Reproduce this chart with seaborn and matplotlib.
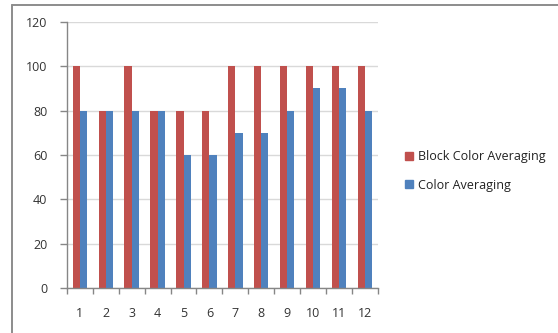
import matplotlib
matplotlib.use("Agg")
import matplotlib.pyplot as plt
from matplotlib.lines import Line2D
import seaborn as sns
import pandas as pd

# Data
categories = [str(i) for i in range(1, 13)]
block_color_averaging = [100, 80, 100, 80, 80, 80, 100, 100, 100, 100, 100, 100]
color_averaging = [80, 80, 80, 80, 60, 60, 70, 70, 80, 90, 90, 80]
series_names = ["Block Color Averaging", "Color Averaging"]
series_colors = ["#C0504D", "#4F81BD"]
y_ticks = [0, 20, 40, 60, 80, 100, 120]

df = pd.DataFrame({
    "Trial": categories * 2,
    "Score": block_color_averaging + color_averaging,
    "Method": [series_names[0]] * len(categories) + [series_names[1]] * len(categories),
})

sns.set_theme(style="white")
plt.rcParams["font.family"] = ["Open Sans", "DejaVu Sans"]

fig = plt.figure(figsize=(5.58, 3.33), dpi=100)
ax = fig.add_axes([0.120, 0.135, 0.557, 0.799])

sns.barplot(
    data=df, x="Trial", y="Score", hue="Method",
    order=categories, hue_order=series_names, palette=series_colors,
    width=0.56, gap=0, saturation=1, errorbar=None,
    edgecolor="none", linewidth=0, ax=ax,
)

ax.set_xlim(-0.5, len(categories) - 0.5)
ax.set_ylim(0, 120)
ax.set_yticks(y_ticks)
ax.yaxis.grid(True, color="#D9D9D9", linewidth=1)
ax.set_axisbelow(True)
ax.set_xlabel("")
ax.set_ylabel("")

axis_gray = "#868686"
for side in ("top", "right"):
    ax.spines[side].set_visible(False)
for side in ("left", "bottom"):
    ax.spines[side].set_color(axis_gray)
    ax.spines[side].set_linewidth(1)

# category boundaries get the tick marks, labels sit at the centres
ax.set_xticks([i - 0.5 for i in range(len(categories) + 1)], minor=True)
ax.tick_params(axis="x", which="major", length=0, pad=14, labelsize=9, labelcolor="#333333")
ax.tick_params(axis="x", which="minor", length=4, width=1, color=axis_gray, direction="out", bottom=True)
ax.tick_params(axis="y", which="major", length=5, width=1, color=axis_gray, direction="out", left=True,
               pad=9, labelsize=9, labelcolor="#333333")

handles = [Line2D([0], [0], marker="s", linestyle="none", markersize=6,
                  markerfacecolor=c, markeredgecolor=c) for c in series_colors]
ax.legend(handles, series_names, loc="center left", bbox_to_anchor=(0.716, 1 - 171 / 333),
          bbox_transform=fig.transFigure, frameon=False, fontsize=9,
          labelspacing=1.25, handlelength=0.55, handletextpad=0.45, borderpad=0,
          labelcolor="#222222")

# chart frame
frame_color = "#8C8C8C"
fig.add_artist(Line2D([11.5 / 558, 1.0], [1 - 4.5 / 333, 1 - 4.5 / 333],
                      transform=fig.transFigure, color=frame_color, linewidth=1.4))
fig.add_artist(Line2D([11.5 / 558, 11.5 / 558], [0.0, 1 - 4.5 / 333],
                      transform=fig.transFigure, color=frame_color, linewidth=1.4))

fig.savefig("out.png", dpi=100, facecolor="white")
